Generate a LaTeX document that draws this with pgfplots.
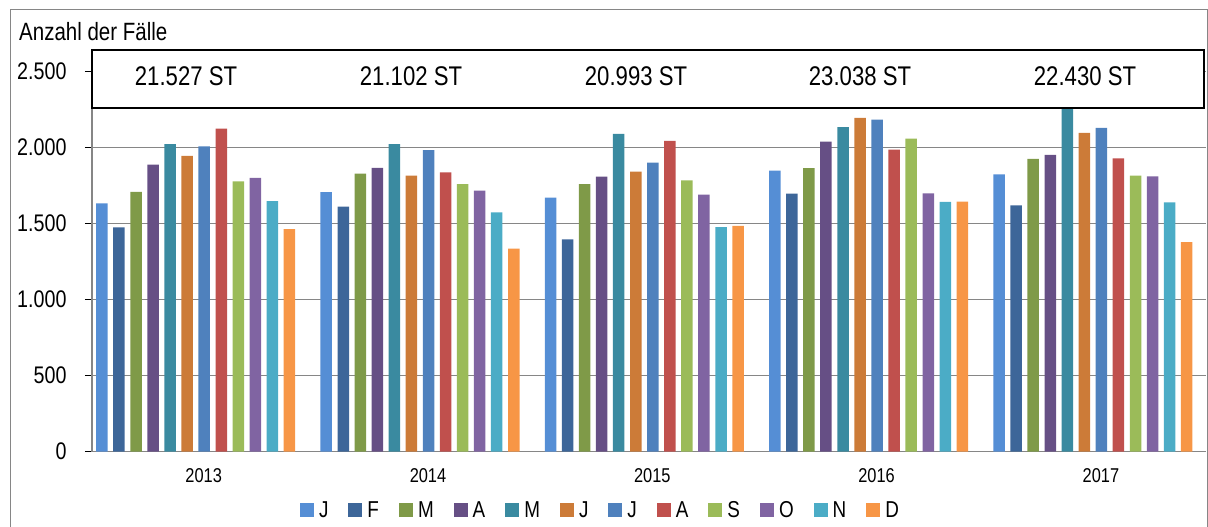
\documentclass[border=0pt]{standalone}
\usepackage{pgfplots}
\pgfplotsset{compat=1.18}
\usepackage{fontspec}
\setmainfont{Liberation Sans}[FakeStretch=0.82]
\definecolor{c1}{HTML}{558ED5}
\definecolor{c2}{HTML}{3D6699}
\definecolor{c3}{HTML}{7F9A48}
\definecolor{c4}{HTML}{664F85}
\definecolor{c5}{HTML}{3A8AA0}
\definecolor{c6}{HTML}{CC7B38}
\definecolor{c7}{HTML}{4F81BD}
\definecolor{c8}{HTML}{C0504D}
\definecolor{c9}{HTML}{9BBB59}
\definecolor{c10}{HTML}{8064A2}
\definecolor{c11}{HTML}{4BACC6}
\definecolor{c12}{HTML}{F79646}
\definecolor{gridgray}{RGB}{134,134,134}
\begin{document}
\begin{tikzpicture}
\useasboundingbox (-92pt,-75.3pt) rectangle (1116pt,451.7pt);
\draw[gridgray, line width=0.8pt] (-82pt,-80pt) -- (-82pt,442.7pt) -- (1115pt,442.7pt) -- (1115pt,-80pt);
\begin{axis}[
  at={(0pt,0pt)}, anchor=south west,
  scale only axis, width=1114pt, height=380pt,
  ybar=5.55pt, bar width=11.5pt,
  xmin=-0.4623, xmax=4.5043, ymin=0, ymax=2500,
  enlarge x limits=false,
  axis lines*=left,
  axis line style={gridgray, line width=1.2pt},
  xtick={0,1,2,3,4},
  xticklabels={2013,2014,2015,2016,2017},
  xtick style={draw=none},
  xticklabel style={font=\fontsize{20}{24}\selectfont, xshift=8pt, yshift=-6pt},
  ytick={0,500,1000,1500,2000,2500},
  yticklabels={0,500,1.000,1.500,2.000,2.500},
  ytick style={black, line width=0.8pt},
  tick align=outside, major tick length=7pt,
  yticklabel style={font=\fontsize{24}{28}\selectfont, xshift=-15pt},
  ymajorgrids, major grid style={gridgray, line width=1.2pt},
  legend image code/.code={\fill[#1] (0pt,-7pt) rectangle (14pt,7pt);},
  legend style={at={(0.456,-0.153)}, anchor=center, draw=none, fill=none,
    legend columns=12, font=\fontsize{23}{26}\selectfont,
    nodes={inner sep=1pt},
    /tikz/every odd column/.append style={column sep=4pt},
    /tikz/every even column/.append style={column sep=19pt}},
  clip=false,
]
\addplot[fill=c1, draw=none] coordinates {(0,1633) (1,1707) (2,1672) (3,1849) (4,1825)};
\addplot[fill=c2, draw=none] coordinates {(0,1476) (1,1613) (2,1397) (3,1698) (4,1620)};
\addplot[fill=c3, draw=none] coordinates {(0,1709) (1,1829) (2,1761) (3,1866) (4,1927)};
\addplot[fill=c4, draw=none] coordinates {(0,1888) (1,1868) (2,1809) (3,2040) (4,1953)};
\addplot[fill=c5, draw=none] coordinates {(0,2023) (1,2023) (2,2091) (3,2136) (4,2290)};
\addplot[fill=c6, draw=none] coordinates {(0,1947) (1,1816) (2,1842) (3,2197) (4,2097)};
\addplot[fill=c7, draw=none] coordinates {(0,2008) (1,1984) (2,1901) (3,2184) (4,2130)};
\addplot[fill=c8, draw=none] coordinates {(0,2126) (1,1838) (2,2045) (3,1988) (4,1929)};
\addplot[fill=c9, draw=none] coordinates {(0,1779) (1,1761) (2,1785) (3,2060) (4,1816)};
\addplot[fill=c10, draw=none] coordinates {(0,1801) (1,1718) (2,1692) (3,1700) (4,1812)};
\addplot[fill=c11, draw=none] coordinates {(0,1648) (1,1574) (2,1478) (3,1644) (4,1640)};
\addplot[fill=c12, draw=none] coordinates {(0,1465) (1,1336) (2,1485) (3,1646) (4,1378)};
\legend{J,F,M,A,M,J,J,A,S,O,N,D}
\end{axis}
\draw[black, line width=2pt, fill=white] (0pt,344pt) rectangle (1112pt,401.7pt);
\foreach \x/\t in {94/21.527 ST, 319/21.102 ST, 544/20.993 ST, 768/23.038 ST, 993/22.430 ST}
  \node[font=\fontsize{27}{32}\selectfont] at (\x pt,375.7pt) {\t};
\node[anchor=base west, font=\fontsize{25}{30}\selectfont, inner sep=0pt] at (-73pt,410.7pt) {Anzahl der Fälle};
\end{tikzpicture}
\end{document}
